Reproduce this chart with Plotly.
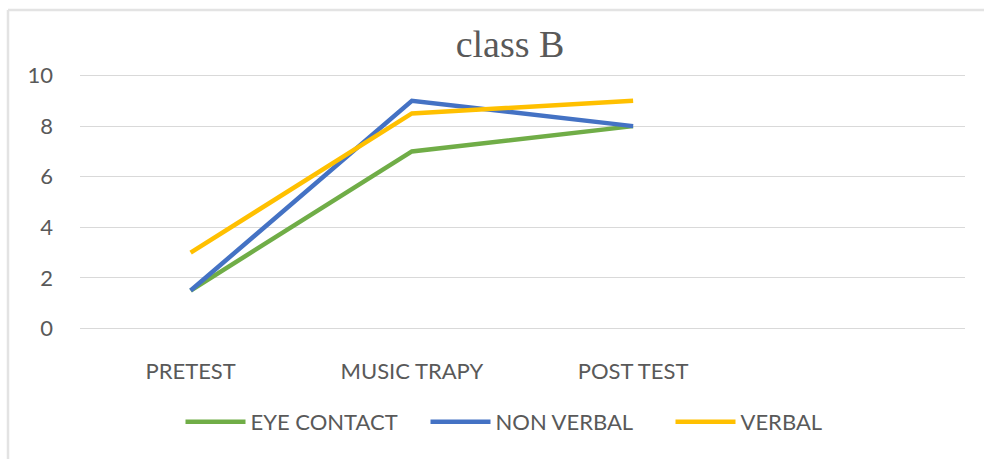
import plotly.graph_objects as go

categories = ["PRETEST", "MUSIC TRAPY", "POST TEST"]
eye_contact = [1.5, 7, 8]
non_verbal = [1.5, 9, 8]
verbal = [3, 8.5, 9]
y_ticks = [0, 2, 4, 6, 8, 10]

x_idx = list(range(len(categories)))

W, H = 984, 459
L, R, T, B = 80, 19, 73, 128

fig = go.Figure()
series = [
    ("EYE CONTACT", eye_contact, "#70AD47"),
    ("NON VERBAL", non_verbal, "#4472C4"),
    ("VERBAL", verbal, "#FFC000"),
]
for name, vals, col in series:
    fig.add_trace(go.Scatter(x=x_idx, y=vals, name=name, mode="lines",
                             line=dict(color=col, width=4.5)))

text_col = "#595959"
pw = W - L - R
ph = H - T - B
def px_to_paper_x(px):
    return (px - L) / pw
def px_to_paper_y(py):
    return (H - B - py) / ph

fig.update_layout(
    width=W, height=H,
    margin=dict(l=L, r=R, t=T, b=B, autoexpand=False),
    paper_bgcolor="white", plot_bgcolor="white",
    title=dict(text="class B", x=px_to_paper_x(510), xref="paper", xanchor="center",
               y=1 - 44 / H, yanchor="middle",
               font=dict(family="Liberation Serif", size=38, color=text_col)),
    xaxis=dict(range=[-0.5, 3.5], tickvals=x_idx, ticktext=categories,
               showgrid=False, zeroline=False, showline=False, ticks="",
               ticklabelstandoff=25,
               tickfont=dict(family="Lato", size=22, color=text_col)),
    yaxis=dict(range=[-0.1, 10.1], tickvals=y_ticks, showgrid=True, gridcolor="#D9D9D9",
               gridwidth=1, zeroline=False, showline=False, ticks="",
               ticklabelstandoff=26,
               tickfont=dict(family="Lato", size=22, color=text_col)),
    legend=dict(orientation="h", x=px_to_paper_x(548), xanchor="center",
                y=px_to_paper_y(422), yanchor="middle", itemwidth=60,
                entrywidth=170, entrywidthmode="pixels",
                font=dict(family="Lato", size=22, color=text_col),
                bgcolor="rgba(0,0,0,0)"),
    showlegend=True,
)

# chart frame (top and left edges)
fig.add_shape(type="line", xref="paper", yref="paper",
              x0=px_to_paper_x(8), x1=px_to_paper_x(990),
              y0=px_to_paper_y(10), y1=px_to_paper_y(10),
              line=dict(color="#E3E3E3", width=2.5))
fig.add_shape(type="line", xref="paper", yref="paper",
              x0=px_to_paper_x(8), x1=px_to_paper_x(8),
              y0=px_to_paper_y(10), y1=px_to_paper_y(470),
              line=dict(color="#E3E3E3", width=2.5))

fig.write_html("out.html", config={"displayModeBar": False},
               post_script="document.body.style.margin='0';")
